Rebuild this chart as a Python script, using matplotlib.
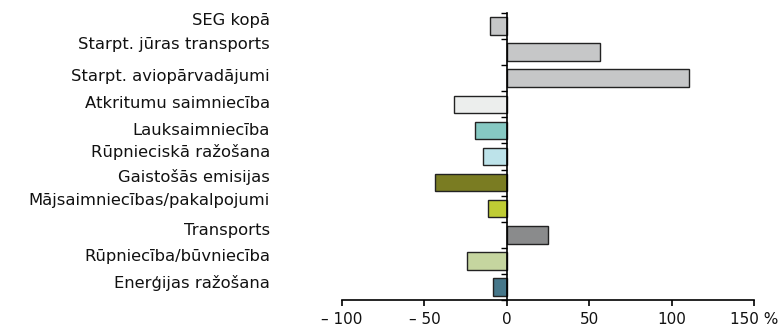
import matplotlib
matplotlib.use("Agg")
from matplotlib import pyplot as plt
import matplotlib.transforms as mtransforms

sectors = ["SEG kopā", "Starpt. jūras transports", "Starpt. aviopārvadājumi",
           "Atkritumu saimniecība", "Lauksaimniecība", "Rūpnieciskā ražošana",
           "Gaistošās emisijas", "Mājsaimniecības/pakalpojumi", "Transports",
           "Rūpniecība/būvniecība", "Enerģijas ražošana"]
change = [-10.5, 56.7, 110.6, -32.0, -19.3, -14.4, -43.8, -11.6, 24.7, -24.1, -8.7]  # %
colors = ["#c6c7c8", "#c6c7c8", "#c6c7c8", "#eceeed", "#86c9c3", "#bde3ea",
          "#7a7c22", "#bfcc34", "#8a8b8c", "#c5d59f", "#46778a"]

xticks = [-100, -50, 0, 50, 100, 150]
xticklabels = ["\u2013 100", "\u2013 50", "0", "50", "100", "150 %"]

# labels in the original sit a bit off the bar centres
label_shift = [-0.2, -0.3, -0.06, -0.04, 0.01, -0.18, -0.2, -0.33, -0.18, -0.16, -0.17]

plt.rcParams['font.family'] = ['DejaVu Sans']
fig = plt.figure(figsize=(7.81, 3.28), dpi=100)
ax = fig.add_axes([0.438, 0.0854, 0.5275, 0.875])

ypos = list(range(len(sectors)))
ax.barh(ypos, change, height=0.67, color=colors, edgecolor="#222222", linewidth=1, zorder=2)

ax.set_xlim(-100, 150)
ax.set_ylim(len(sectors) - 0.5, -0.5)

ax.spines['top'].set_visible(False)
ax.spines['right'].set_visible(False)
ax.spines['left'].set_position(('data', 0))
ax.spines['left'].set_linewidth(1.2)
ax.spines['bottom'].set_linewidth(1.2)

ax.set_xticks(xticks)
ax.set_xticklabels(xticklabels, fontsize=11, color="#111111")
ax.tick_params(axis='x', direction='out', length=4, width=1.2, pad=5)

ax.set_yticks([i - 0.5 for i in range(len(sectors) + 1)])
ax.set_yticklabels([])
ax.tick_params(axis='y', direction='out', length=4.5, width=1)

trans = mtransforms.blended_transform_factory(ax.transAxes, ax.transData)
for i, name in enumerate(sectors):
    ax.text(-0.175, i + label_shift[i], name, transform=trans, ha='right', va='center',
            fontsize=11.8, color="#111111")

fig.savefig("out.png", dpi=100)
